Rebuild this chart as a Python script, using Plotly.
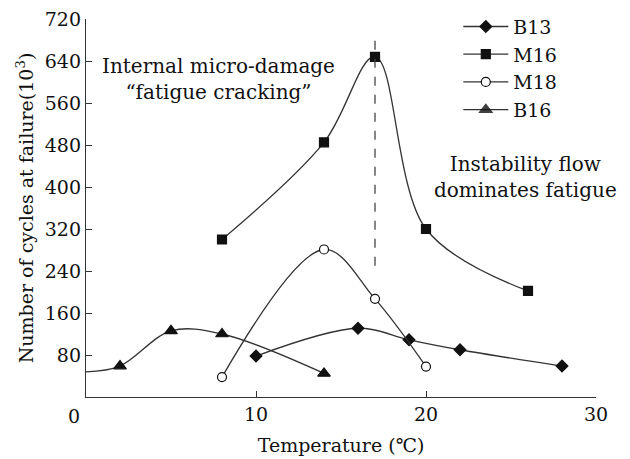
import plotly.graph_objects as go

# Fatigue life vs. test temperature for four mixtures
b13_t = [10, 16, 19, 22, 28]
b13_n = [78, 131, 109, 90, 59]

m16_t = [8, 14, 17, 20, 26]
m16_n = [300, 485, 648, 320, 202]

m18_t = [8, 14, 17, 20]
m18_n = [38, 281, 187, 58]

# B16 curve starts at 0 °C (no marker there)
b16_t = [0, 2, 5, 8, 14]
b16_n = [48, 59, 126, 120, 45]
b16_marked = [False, True, True, True, True]

peak_t = 17
peak_span = [250, 682]

x_ticks = [10, 20, 30]
y_ticks = [80, 160, 240, 320, 400, 480, 560, 640, 720]

FONT = "DejaVu Serif"
FS = 19
INK = "#111111"
LINE = "#333333"

fig = go.Figure()

def add_series(name, t, n, symbol, fill, size=9, opacity=None):
    fig.add_trace(go.Scatter(
        x=t, y=n, name=name, mode="lines+markers",
        line=dict(color=LINE, width=1.3, shape="spline", smoothing=1.0),
        marker=dict(symbol=symbol, size=size, color=fill, opacity=opacity,
                    line=dict(color=INK, width=1.2)),
    ))

add_series("B13", b13_t, b13_n, "diamond", INK)
add_series("M16", m16_t, m16_n, "square", INK)
add_series("M18", m18_t, m18_n, "circle", "white")
add_series("B16", b16_t, b16_n, "triangle-up", INK, size=11,
           opacity=[1 if m else 0 for m in b16_marked])

# Dashed marker for the peak temperature
fig.add_trace(go.Scatter(
    x=[peak_t, peak_t], y=peak_span, mode="lines", showlegend=False,
    line=dict(color="#444444", width=1.3, dash="dash"), hoverinfo="skip",
))

fig.add_annotation(x=0.26, y=0.84, xref="paper", yref="paper",
                   xanchor="center", yanchor="middle",
                   text="Internal micro-damage<br>“fatigue cracking”",
                   showarrow=False, align="center",
                   font=dict(family=FONT, size=20, color=INK))
fig.add_annotation(x=0.862, y=0.582, xref="paper", yref="paper",
                   xanchor="center", yanchor="middle",
                   text="Instability flow<br>dominates fatigue",
                   showarrow=False, align="center",
                   font=dict(family=FONT, size=20, color=INK))
# Shared origin label
fig.add_annotation(x=0, y=0, xref="x", yref="y", text="0", showarrow=False,
                   xanchor="center", yanchor="middle",
                   xshift=-12, yshift=-19,
                   font=dict(family=FONT, size=FS, color=INK))

fig.update_layout(
    width=630, height=459,
    margin=dict(l=86, r=34, t=19, b=62, autoexpand=False),
    paper_bgcolor="white", plot_bgcolor="white",
    font=dict(family=FONT, size=FS, color=INK),
    showlegend=True,
    legend=dict(x=0.73, y=1.03, xanchor="left", yanchor="top",
                bgcolor="rgba(0,0,0,0)", font=dict(family=FONT, size=FS),
                tracegroupgap=0, itemwidth=45),
    xaxis=dict(range=[0, 30], tickvals=x_ticks, ticks="inside", ticklen=6,
               showline=True, linecolor=LINE, linewidth=1.3, tickcolor=LINE,
               showgrid=False, zeroline=False, mirror=False,
               title=dict(text="Temperature (℃)", standoff=14,
                          font=dict(family=FONT, size=FS))),
    yaxis=dict(range=[0, 720], tickvals=y_ticks, ticks="inside", ticklen=6,
               showline=True, linecolor=LINE, linewidth=1.3, tickcolor=LINE,
               showgrid=False, zeroline=False,
               title=dict(text="Number of cycles at failure(10<sup>3</sup>)",
                          standoff=6, font=dict(family=FONT, size=FS))),
)

fig.write_html("out.html")
